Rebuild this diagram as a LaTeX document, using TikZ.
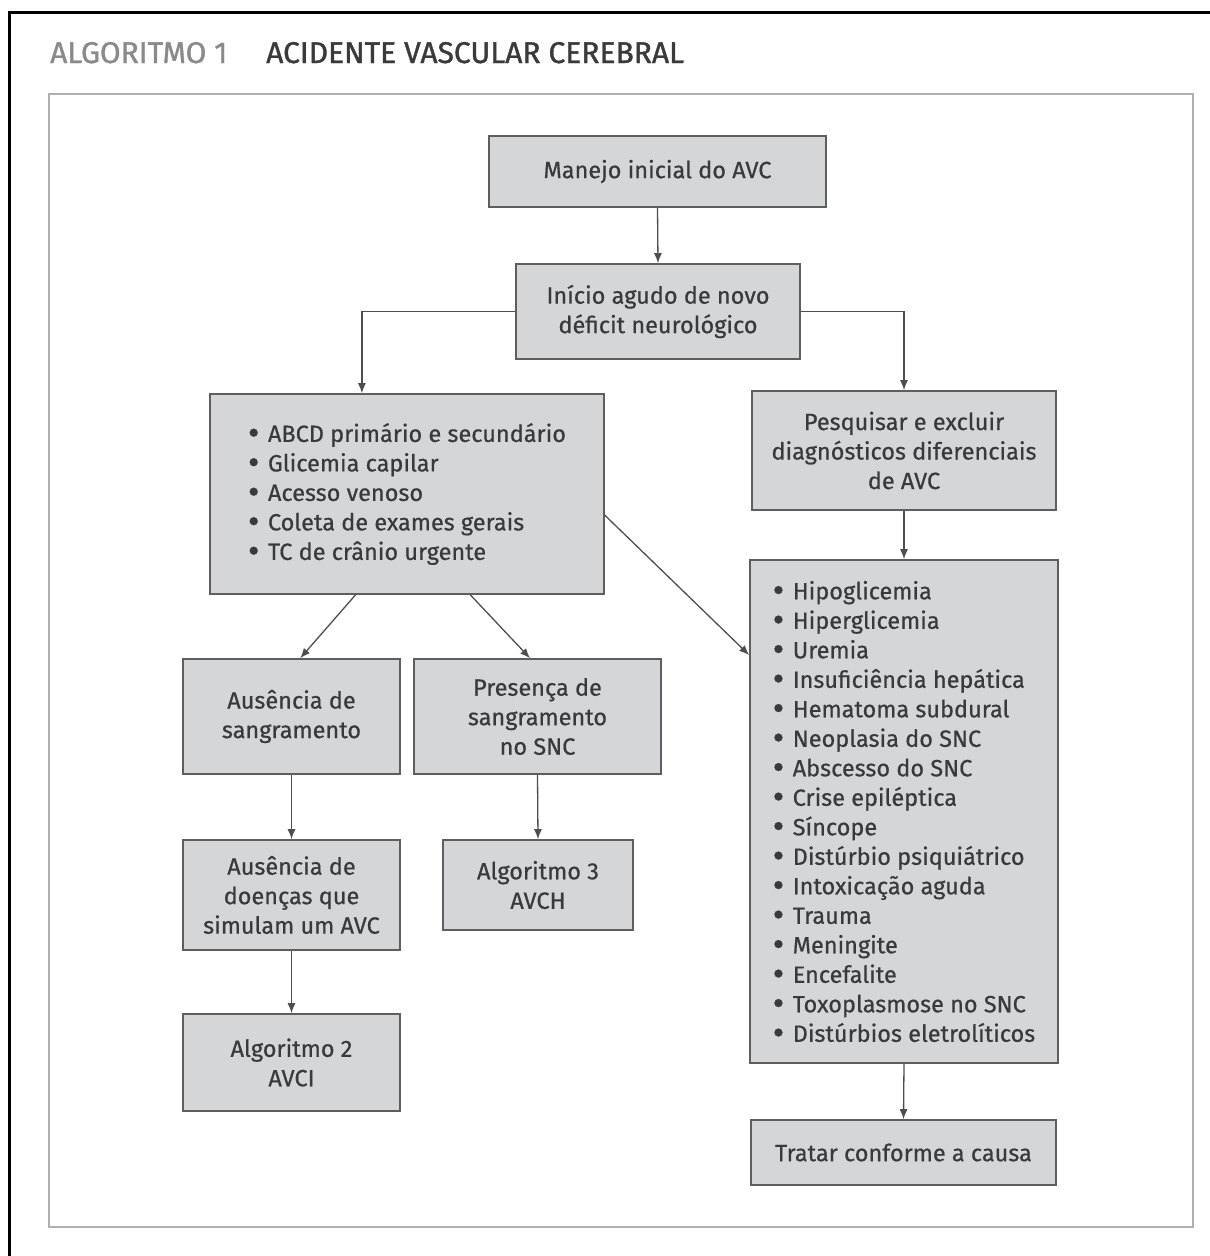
\documentclass[tikz,border=0pt]{standalone}
\usepackage{fontspec}
\setmainfont{Fira Sans}
\newfontfamily\boxfont{Fira Sans}[FakeBold=0.6]
\newfontfamily\titlefont{Fira Sans}[FakeBold=1.2]
\usetikzlibrary{arrows.meta,calc}
\definecolor{boxfill}{HTML}{D4D6D8}
\definecolor{boxline}{HTML}{5E5E5E}
\definecolor{ink}{HTML}{3A3A3A}
\definecolor{frame}{HTML}{B0B0B0}
\definecolor{titlegray}{HTML}{8A8A8A}
% list bullet: an enlarged dot followed by a fixed gap
\newcommand\itembullet{\makebox[0.85em][l]{\smash{\raisebox{-0.12em}{\scalebox{1.5}{\textbullet}}}}}
\begin{document}
\begin{tikzpicture}[x=1pt,y=-1pt,
  flowbox/.style={draw=boxline, line width=1.6pt, fill=boxfill, text=ink,
    inner sep=0pt, align=center,
    font=\boxfont\fontsize{23.5}{29.5}\selectfont},
  listbox/.style={flowbox, align=left},
  link/.style={draw=ink!90, line width=1.3pt, -{Latex[length=10pt,width=8pt]}}
]
% page extent
\useasboundingbox (0,0) rectangle (1210,1256);
\fill[white] (0,0) rectangle (1210,1256);

% outer black rule (top and left)
\draw[line width=3pt, black] (9,1256) -- (9,12) -- (1210,12);

% title
\node[anchor=base west, inner sep=0pt, font=\titlefont\fontsize{30}{34}\selectfont, text=titlegray]
  (algnum) at (50,63) {ALGORITMO 1};
\node[anchor=base west, inner sep=0pt, font=\titlefont\fontsize{30}{34}\selectfont, text=ink]
  (heading) at (266,63) {ACIDENTE VASCULAR CEREBRAL};

% inner frame
\draw[frame, line width=2pt] (49,94) rectangle (1193,1227);

% boxes
\node[flowbox, minimum width=337pt, minimum height=71pt] (manejo) at (657.5,171.5)
  {Manejo inicial do AVC};
\node[flowbox, minimum width=284pt, minimum height=95pt] (inicio) at (658,311.5)
  {Início agudo de novo\\déficit neurológico};
\node[listbox, minimum width=394pt, minimum height=200pt] (abcd) at (407,494)
  {\itembullet ABCD primário e secundário\\
   \itembullet Glicemia capilar\\
   \itembullet Acesso venoso\\
   \itembullet Coleta de exames gerais\\
   \itembullet TC de crânio urgente};
\node[flowbox, minimum width=304pt, minimum height=119pt] (pesq) at (904,450.5)
  {Pesquisar e excluir\\diagnósticos diferenciais\\de AVC};
\node[listbox, minimum width=308pt, minimum height=503pt] (lista) at (904,811.5)
  {\itembullet Hipoglicemia\\
   \itembullet Hiperglicemia\\
   \itembullet Uremia\\
   \itembullet Insuficiência hepática\\
   \itembullet Hematoma subdural\\
   \itembullet Neoplasia do SNC\\
   \itembullet Abscesso do SNC\\
   \itembullet Crise epiléptica\\
   \itembullet Síncope\\
   \itembullet Distúrbio psiquiátrico\\
   \itembullet Intoxicação aguda\\
   \itembullet Trauma\\
   \itembullet Meningite\\
   \itembullet Encefalite\\
   \itembullet Toxoplasmose no SNC\\
   \itembullet Distúrbios eletrolíticos};
\node[flowbox, minimum width=305pt, minimum height=65pt] (tratar) at (903.5,1152.5)
  {Tratar conforme a causa};
\node[flowbox, minimum width=217pt, minimum height=115pt] (aussang) at (291.5,716.5)
  {Ausência de\\sangramento};
\node[flowbox, minimum width=247pt, minimum height=115pt] (pressang) at (537.5,716.5)
  {Presença de\\sangramento\\no SNC};
\node[flowbox, minimum width=217pt, minimum height=110pt] (ausdoen) at (291.5,895)
  {Ausência de\\doenças que\\simulam um AVC};
\node[flowbox, minimum width=190pt, minimum height=90pt] (algtres) at (538,885)
  {Algoritmo 3\\AVCH};
\node[flowbox, minimum width=217pt, minimum height=97pt] (algdois) at (291.5,1062.5)
  {Algoritmo 2\\AVCI};

% attachment points on box edges
\coordinate (abcdtop) at ($(abcd.north west)!0.386!(abcd.north east)$);
\coordinate (abcdbl) at ($(abcd.south west)!0.37!(abcd.south east)$);
\coordinate (abcdbr) at ($(abcd.south west)!0.66!(abcd.south east)$);
\coordinate (abcdr) at ($(abcd.north east)!0.605!(abcd.south east)$);
\coordinate (listal) at ($(lista.north west)!0.19!(lista.south west)$);
\coordinate (aussangtop) at ($(aussang.north west)!0.54!(aussang.north east)$);
\coordinate (pressangtop) at ($(pressang.north west)!0.47!(pressang.north east)$);

% connectors
\draw[link] (manejo.south) -- (inicio.north);
\draw[link] (inicio.west) -| (abcdtop);
\draw[link] (inicio.east) -| (pesq.north);
\draw[link] (pesq.south) -- (lista.north);
\draw[link] (lista.south) -- (tratar.north);
\draw[link] (abcdr) -- (listal);
\draw[link] (abcdbl) -- (aussangtop);
\draw[link] (abcdbr) -- (pressangtop);
\draw[link] (aussang.south) -- (ausdoen.north);
\draw[link] (pressang.south) -- (algtres.north);
\draw[link] (ausdoen.south) -- (algdois.north);
\end{tikzpicture}
\end{document}
